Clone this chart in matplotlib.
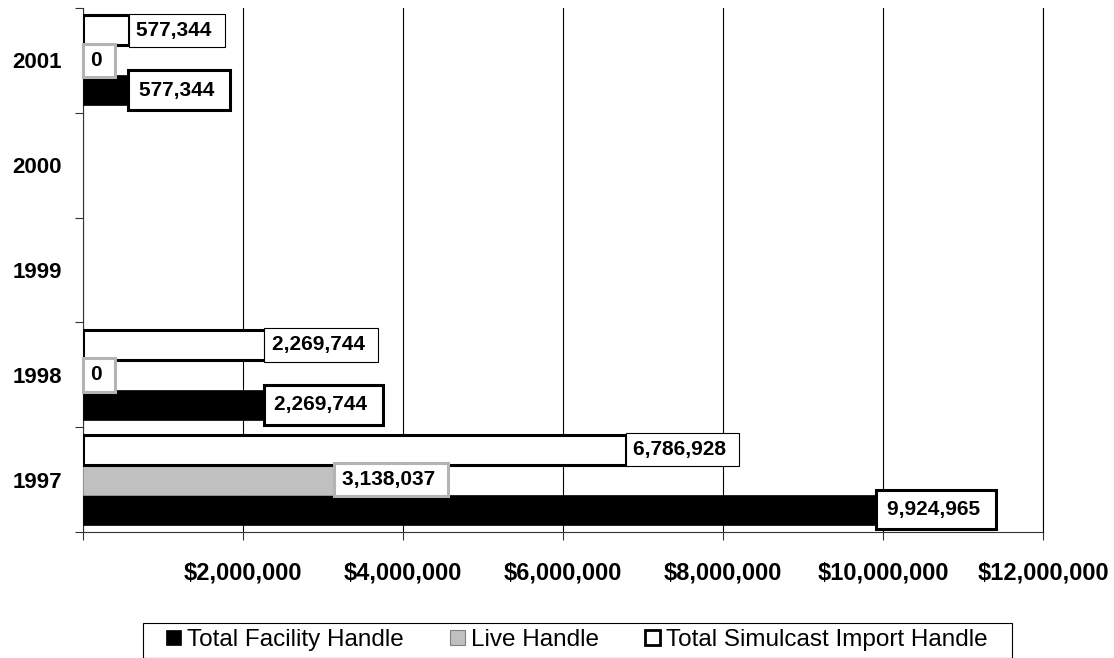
import matplotlib
matplotlib.use("Agg")
import matplotlib.pyplot as plt
from matplotlib.patches import Patch, Rectangle
from matplotlib.ticker import FuncFormatter, FixedLocator
import numpy as np

plt.rcParams["font.family"] = ["Liberation Sans", "DejaVu Sans"]

years = ["1997", "1998", "1999", "2000", "2001"]
facility_handle = [9924965, 2269744, None, None, 577344]
live_handle = [3138037, 0, None, None, 0]
simulcast_handle = [6786928, 2269744, None, None, 577344]

x_ticks = [0, 2000000, 4000000, 6000000, 8000000, 10000000, 12000000]


def to_arr(vals):
    return np.array([np.nan if v is None else v for v in vals], dtype=float)


fig = plt.figure(figsize=(11.14, 6.58), dpi=100)
ax = fig.add_axes([0.0745, 0.1915, 0.8618, 0.7963])

pos = np.arange(len(years))
h = 0.286

series = [
    # values, offset, face, edge, bar lw, label edge, label lw, label offset (pt), box pad
    (facility_handle, -h, "black", "black", 0.5, "black", 2.2, 7, 0.5),
    (live_handle, 0.0, "#c0c0c0", "#a0a0a0", 0.5, "#b4b4b4", 2.2, 5.5, 0.35),
    (simulcast_handle, h, "white", "black", 2.2, "black", 0.8, 5, 0.35),
]

for vals, off, face, edge, blw, ledge, llw, loff, bpad in series:
    arr = to_arr(vals)
    ax.barh(pos + off, arr, height=h, color=face, edgecolor=edge,
            linewidth=blw, zorder=3)
    for i, v in enumerate(vals):
        if v is None:
            continue
        ax.annotate(f"{v:,} ", xy=(v, pos[i] + off), xytext=(loff, 0),
                    textcoords="offset points", ha="left", va="center",
                    fontsize=15, fontweight="bold", zorder=6,
                    bbox=dict(boxstyle=f"square,pad={bpad}", facecolor="white",
                              edgecolor=ledge, linewidth=llw))

ax.set_xlim(0, 12000000)
ax.set_ylim(-0.5, len(years) - 0.5)

ax.xaxis.set_major_locator(FixedLocator(x_ticks))
ax.xaxis.set_major_formatter(FuncFormatter(lambda x, p: "" if x == 0 else f"${x:,.0f}"))
ax.tick_params(axis="x", length=6, width=0.8, pad=15, labelsize=17, color="#333333")
for lab in ax.get_xticklabels():
    lab.set_fontweight("bold")

ax.yaxis.set_major_locator(FixedLocator(np.arange(-0.5, len(years), 1.0)))
ax.yaxis.set_major_formatter(FuncFormatter(lambda y, p: ""))
ax.yaxis.set_minor_locator(FixedLocator(pos))
ax.set_yticklabels(years, minor=True)
ax.tick_params(axis="y", which="major", length=6, width=0.8, color="#333333")
ax.tick_params(axis="y", which="minor", length=0, pad=15, labelsize=16)
for lab in ax.get_yticklabels(minor=True):
    lab.set_fontweight("bold")

ax.grid(axis="x", color="black", linewidth=0.8, zorder=0)
ax.set_axisbelow(True)
ax.spines["top"].set_visible(False)
ax.spines["right"].set_color("black")
ax.spines["right"].set_linewidth(0.8)
ax.spines["left"].set_color("#333333")
ax.spines["bottom"].set_color("#333333")

handles = [
    Patch(facecolor="black", edgecolor="black", linewidth=0.5),
    Patch(facecolor="#c0c0c0", edgecolor="#808080", linewidth=0.8),
    Patch(facecolor="white", edgecolor="black", linewidth=2.0),
]
labels = ["Total Facility Handle", "Live Handle", "Total Simulcast Import Handle"]
leg = fig.legend(handles, labels, loc="center", bbox_to_anchor=(577 / 1114, 1 - 640 / 658),
                 ncol=3, fontsize=17.5, frameon=False,
                 handlelength=0.62, handleheight=0.62, handletextpad=0.25,
                 columnspacing=1.9, borderpad=0.2, borderaxespad=0)

# legend frame (reference box runs past the bottom edge)
fig.patches.append(Rectangle((143 / 1114, 0.0), (1012 - 143) / 1114, (658 - 623) / 658,
                             transform=fig.transFigure, fill=False,
                             edgecolor="black", linewidth=0.8, zorder=1))

fig.savefig("out.png", dpi=100)
